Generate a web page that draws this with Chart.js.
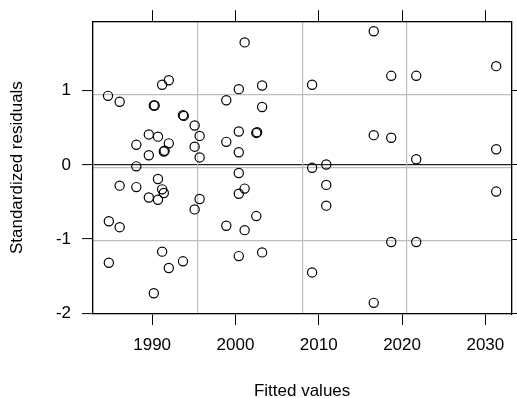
<!DOCTYPE html>
<html>
<head>
<meta charset="utf-8">
<script src="https://cdn.jsdelivr.net/npm/chart.js@4/dist/chart.umd.min.js"></script>
<style>
  html, body { margin: 0; padding: 0; background: #fff; }
  #wrap { width: 517px; height: 398px; position: relative; }
</style>
</head>
<body>
<div id="wrap"><canvas id="chart"></canvas></div>
<script>
// fitted values (x) and standardized residuals (y)
const fittedValues = [
  1984.7, 1986.1, 1990.2, 1990.3, 1991.2, 1992.0, 1993.7, 1993.8, 1995.1, 1995.7,
  1995.1, 1995.7, 1998.9, 1998.9, 1988.1, 1989.6, 1990.7, 1992.0, 1991.4, 1991.5,
  1989.6, 1988.1, 1986.1, 1988.1, 1990.7, 1991.2, 1991.4, 1989.6, 1990.7, 1995.7,
  1995.1, 1984.8, 1986.1, 1998.9, 1991.2, 1984.8, 1993.7, 1992.0, 1990.2, 2001.1,
  2000.4, 2003.2, 2009.2, 2016.6, 2003.2, 2000.4, 2002.5, 2002.6, 2000.4, 2000.4,
  2001.1, 2000.4, 2002.5, 2001.1, 2000.4, 2003.2, 2009.2, 2010.9, 2010.9, 2010.9,
  2009.2, 2016.6, 2018.7, 2021.7, 2031.3, 2016.6, 2018.7, 2021.7, 2031.3, 2031.3,
  2018.7, 2021.7
];
const stdResiduals = [
  0.93, 0.85, 0.80, 0.80, 1.08, 1.14, 0.67, 0.66, 0.53, 0.39,
  0.245, 0.10, 0.87, 0.31, 0.27, 0.41, 0.38, 0.29, 0.18, 0.19,
  0.13, -0.02, -0.28, -0.30, -0.19, -0.33, -0.38, -0.44, -0.47, -0.46,
  -0.60, -0.76, -0.84, -0.82, -1.17, -1.32, -1.30, -1.39, -1.73, 1.65,
  1.02, 1.07, 1.08, 1.80, 0.78, 0.45, 0.43, 0.44, 0.17, -0.11,
  -0.32, -0.39, -0.69, -0.88, -1.23, -1.18, -0.04, 0.005, -0.27, -0.55,
  -1.45, -1.86, 1.20, 1.20, 1.33, 0.40, 0.365, 0.076, 0.21, -0.36,
  -1.04, -1.04
];

const xTicks = [1990, 2000, 2010, 2020, 2030];
const yTicks = [-2, -1, 0, 1];
const xRange = [1982.9, 2033.1];
const yRange = [-2.01, 1.936];
const gridDivisions = [0, 1, 2, 3, 4];

const xLabel = "Fitted values";
const yLabel = "Standardized residuals";

const FONT = "'Liberation Sans', Arial, Helvetica, sans-serif";

function fixedTicks(values) {
  return scale => { scale.ticks = values.map(v => ({ value: v })); };
}

const points = fittedValues.map((x, i) => ({ x: x, y: stdResiduals[i] }));

const ctx = document.getElementById("chart").getContext("2d");
new Chart(ctx, {
  type: "scatter",
  data: {
    datasets: [{
      data: points,
      xAxisID: "x",
      yAxisID: "y",
      pointStyle: "circle",
      pointRadius: 4.6,
      pointBorderWidth: 1.2,
      pointBorderColor: "#000",
      pointBackgroundColor: "rgba(0,0,0,0)",
      pointHoverRadius: 4.6
    }]
  },
  options: {
    responsive: true,
    maintainAspectRatio: false,
    animation: false,
    layout: { padding: 0 },
    plugins: {
      legend: { display: false },
      tooltip: { enabled: false }
    },
    scales: {
      x: {
        type: "linear", position: "bottom", min: xRange[0], max: xRange[1],
        afterBuildTicks: fixedTicks(xTicks),
        afterFit: s => { s.height = 84; },
        ticks: {
          color: "#000", padding: 10,
          font: { family: FONT, size: 17 },
          callback: v => String(v)
        },
        grid: { drawOnChartArea: false, tickLength: 11, tickColor: "#000", tickWidth: 1 },
        border: { color: "#000", width: 1.3 },
        title: {
          display: true, text: xLabel, color: "#000",
          font: { family: FONT, size: 17, lineHeight: 0.8 },
          padding: { top: 0, bottom: 0 }
        }
      },
      y: {
        type: "linear", position: "left", min: yRange[0], max: yRange[1],
        afterBuildTicks: fixedTicks(yTicks),
        afterFit: s => { s.width = 93; },
        ticks: {
          color: "#000", padding: 11,
          font: { family: FONT, size: 17 },
          callback: v => String(v)
        },
        grid: {
          drawOnChartArea: true,
          color: c => (c.tick && c.tick.value === 0) ? "#222" : "rgba(0,0,0,0)",
          lineWidth: 1.2,
          tickLength: 11, tickColor: "#000", tickWidth: 1
        },
        border: { color: "#000", width: 1.3 },
        title: {
          display: true, text: yLabel, color: "#000",
          font: { family: FONT, size: 17, lineHeight: 1.2 },
          padding: { top: 7, bottom: 0 }
        }
      },
      // grid that splits the panel into quarters
      gx: {
        type: "linear", position: "top", min: 0, max: 4,
        afterBuildTicks: fixedTicks(gridDivisions),
        afterFit: s => { s.height = 0; },
        ticks: { display: false },
        border: { display: false },
        grid: { color: "#bdbdbd", lineWidth: 1.2, drawTicks: false }
      },
      gy: {
        type: "linear", position: "right", min: 0, max: 4,
        afterBuildTicks: fixedTicks(gridDivisions),
        afterFit: s => { s.width = 0; },
        ticks: { display: false },
        border: { display: false },
        grid: { color: "#bdbdbd", lineWidth: 1.2, drawTicks: false }
      },
      xTop: {
        type: "linear", position: "top", min: xRange[0], max: xRange[1],
        afterBuildTicks: fixedTicks(xTicks),
        afterFit: s => { s.height = 19; },
        ticks: { display: false },
        grid: { drawOnChartArea: false, tickLength: 11, tickColor: "#000", tickWidth: 1 },
        border: { color: "#000", width: 1.3 }
      },
      yRight: {
        type: "linear", position: "right", min: yRange[0], max: yRange[1],
        afterBuildTicks: fixedTicks(yTicks),
        afterFit: s => { s.width = 4; },
        ticks: { display: false },
        grid: { drawOnChartArea: false, tickLength: 11, tickColor: "#000", tickWidth: 1 },
        border: { color: "#000", width: 1.3 }
      }
    }
  }
});
</script>
</body>
</html>
